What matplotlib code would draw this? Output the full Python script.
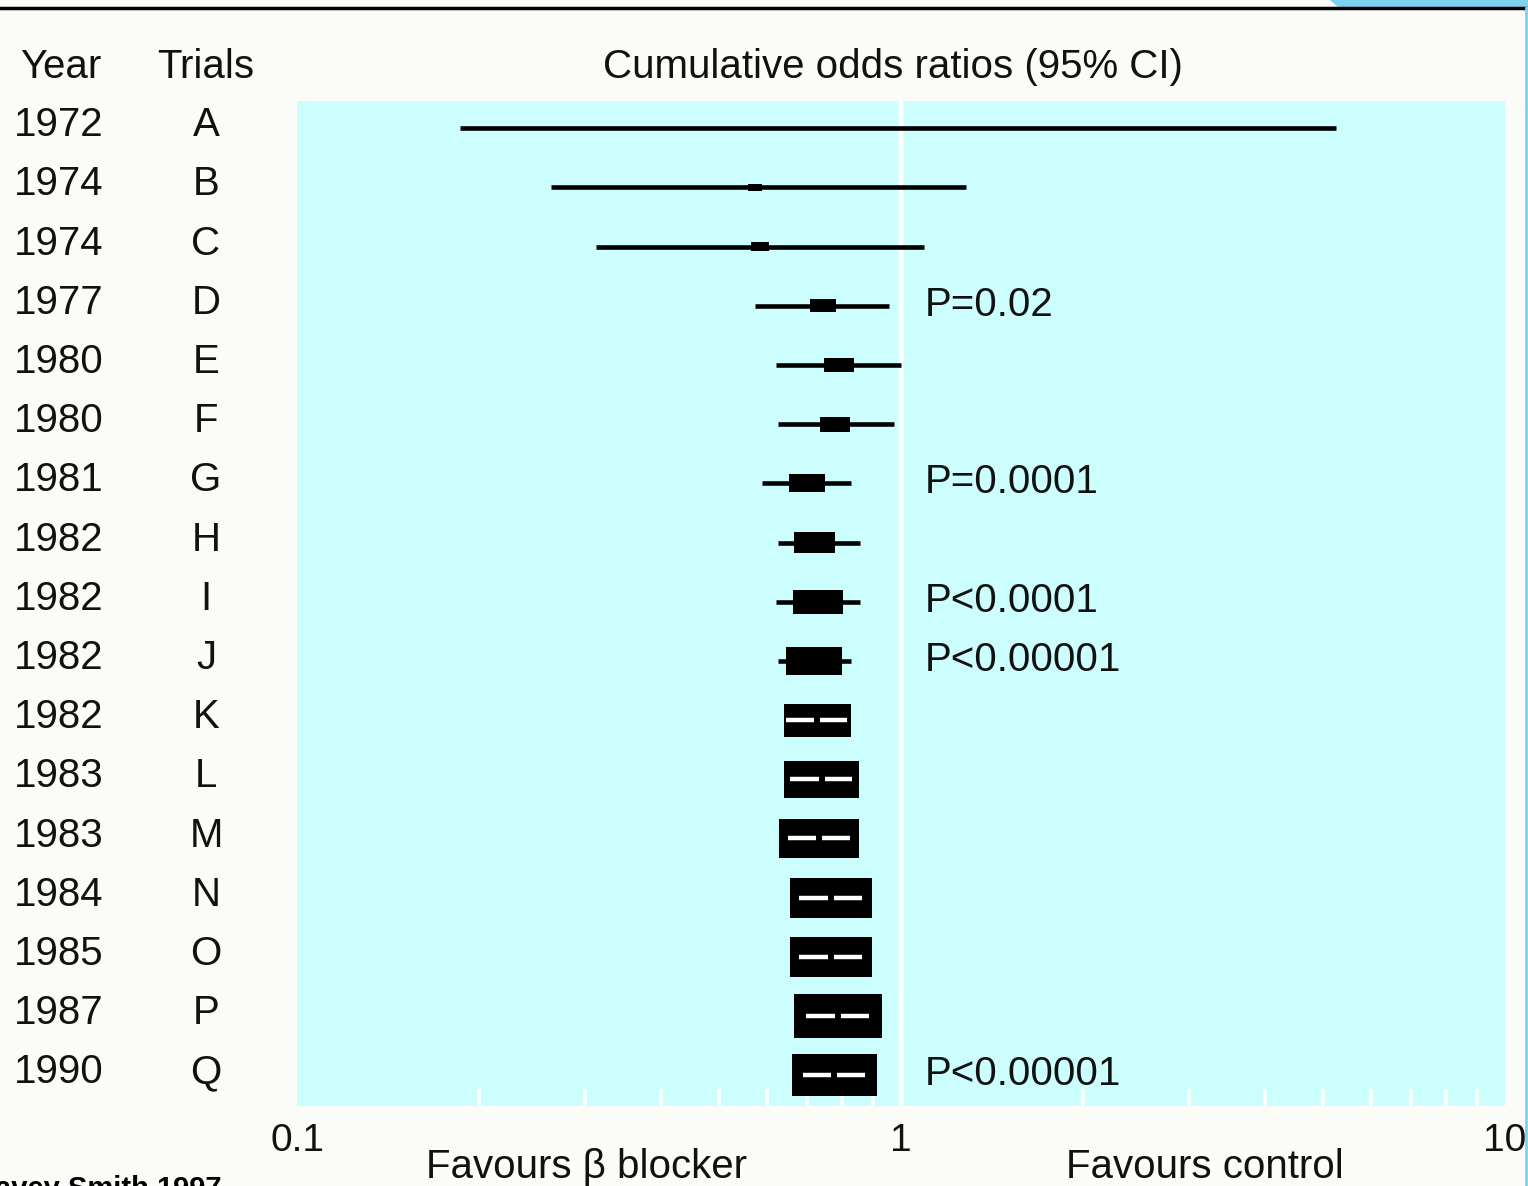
import matplotlib
matplotlib.use("Agg")
import matplotlib.pyplot as plt
import numpy as np
from matplotlib.patches import Rectangle, Polygon
from matplotlib import transforms
from matplotlib.ticker import FixedLocator, NullFormatter

plt.rcParams['font.family'] = ['Liberation Sans', 'DejaVu Sans']

# ---------------- data ----------------
years = [1972, 1974, 1974, 1977, 1980, 1980, 1981, 1982, 1982, 1982,
         1982, 1983, 1983, 1984, 1985, 1987, 1990]
trials = ['A', 'B', 'C', 'D', 'E', 'F', 'G', 'H', 'I', 'J',
          'K', 'L', 'M', 'N', 'O', 'P', 'Q']
or_est = [1.00, 0.573, 0.584, 0.743, 0.789, 0.778, 0.699, 0.720, 0.729, 0.718,
          0.727, 0.739, 0.732, 0.766, 0.766, 0.787, 0.776]
ci_lo = [0.186, 0.263, 0.313, 0.573, 0.621, 0.626, 0.589, 0.626, 0.621, 0.626,
         0.645, 0.655, 0.650, 0.678, 0.678, 0.696, 0.688]
ci_hi = [5.25, 1.28, 1.09, 0.955, 1.00, 0.974, 0.826, 0.855, 0.855, 0.826,
         0.814, 0.830, 0.823, 0.862, 0.862, 0.885, 0.872]
weights = [0.04, 0.12, 0.15, 0.22, 0.25, 0.25, 0.30, 0.34, 0.41, 0.46,
           0.56, 0.62, 0.66, 0.68, 0.68, 0.73, 0.71]
p_labels = ['', '', '', 'P=0.02', '', '', 'P=0.0001', '', 'P<0.0001', 'P<0.00001',
            '', '', '', '', '', '', 'P<0.00001']
xticks_major = [0.1, 1, 10]
xtick_labels = ['0.1', '1', '10']
header_year = 'Year'
header_trials = 'Trials'
title = 'Cumulative odds ratios (95% CI)'
xlab_left = 'Favours β blocker'
xlab_right = 'Favours control'
source = 'Davey Smith 1997'

# ---------------- figure ----------------
W, H = 1528, 1186
fig = plt.figure(figsize=(W / 100, H / 100), dpi=100)
fig.patch.set_facecolor('#FBFBF8')

ax = fig.add_axes([297 / W, 1 - 1106 / H, (1505 - 297) / W, (1106 - 101) / H])
ax.set_facecolor('#CCFEFE')
ax.set_xscale('log')
ax.set_xlim(0.1, 10)
n = len(trials)
ax.set_ylim(n - 0.48, -0.46)
for s in ax.spines.values():
    s.set_visible(False)
ax.set_yticks([])

ax.xaxis.set_major_locator(FixedLocator(xticks_major))
ax.set_xticklabels(xtick_labels)
minor = [m * d for d in (0.1, 1) for m in range(2, 10)]
ax.xaxis.set_minor_locator(FixedLocator(minor))
ax.xaxis.set_minor_formatter(NullFormatter())
ax.tick_params(axis='x', which='major', length=0, pad=12, labelsize=28,
               labelcolor='#111111')
ax.tick_params(axis='x', which='minor', direction='in', length=12, width=2.6,
               color='white')

# line of no effect
ax.axvline(1, color='white', lw=3.2, zorder=1)

k = 0.20  # box width (decades) per unit of box height (rows)
for i in range(n):
    est, lo, hi, w = or_est[i], ci_lo[i], ci_hi[i], weights[i]
    hw = w * k / 2
    bl, br = est * 10 ** (-hw), est * 10 ** hw
    inside = lo >= bl and hi <= br
    ax.plot([lo, hi], [i, i], color='black', lw=3.3, solid_capstyle='butt', zorder=2)
    ax.add_patch(Rectangle((bl, i - w / 2), br - bl, w, facecolor='black',
                           edgecolor='none', zorder=3))
    if inside:
        ax.plot([lo, hi], [i, i], color='white', lw=3.2, solid_capstyle='butt', zorder=4)
        ax.plot([est], [i], marker='s', ms=5, color='black', mew=0, zorder=5)

# text columns
tr = transforms.blended_transform_factory(fig.transFigure, ax.transData)
fs = 29
for i in range(n):
    ax.text(14 / W, i - 0.05, str(years[i]), transform=tr, ha='left', va='center',
            fontsize=fs, color='#111111')
    ax.text(206 / W, i - 0.05, trials[i], transform=tr, ha='center', va='center',
            fontsize=fs, color='#111111')
    if p_labels[i]:
        ax.text(925 / W, i - 0.02, p_labels[i], transform=tr, ha='left', va='center',
                fontsize=fs, color='#111111')

fig.text(20 / W, 1 - 67 / H, header_year, ha='left', va='center', fontsize=fs, color='#111111')
fig.text(206 / W, 1 - 67 / H, header_trials, ha='center', va='center', fontsize=fs, color='#111111')
fig.text(893 / W, 1 - 67 / H, title, ha='center', va='center', fontsize=fs, color='#111111')
fig.text(587 / W, 1 - 1167 / H, xlab_left, ha='center', va='center', fontsize=fs, color='#111111')
fig.text(1205 / W, 1 - 1167 / H, xlab_right, ha='center', va='center', fontsize=fs, color='#111111')
fig.text(222 / W, -0.009, source, ha='right', va='baseline', fontsize=21,
         fontweight='bold', color='black')

# slide decorations
fig.add_artist(plt.Line2D([0, 1525 / W], [1 - 8 / H, 1 - 8 / H], transform=fig.transFigure,
                          color='black', lw=2.5))
fig.add_artist(Polygon([[1330 / W, 1], [1528 / W, 1], [1528 / W, 1 - 7 / H], [1338 / W, 1 - 7 / H]],
                       closed=True, transform=fig.transFigure, facecolor='#7DD3EE',
                       edgecolor='none'))
fig.add_artist(plt.Line2D([1526 / W, 1526 / W], [0, 1 - 8 / H], transform=fig.transFigure,
                          color='#7DD3EE', lw=2))

fig.savefig('out.png', dpi=100, facecolor=fig.get_facecolor())
